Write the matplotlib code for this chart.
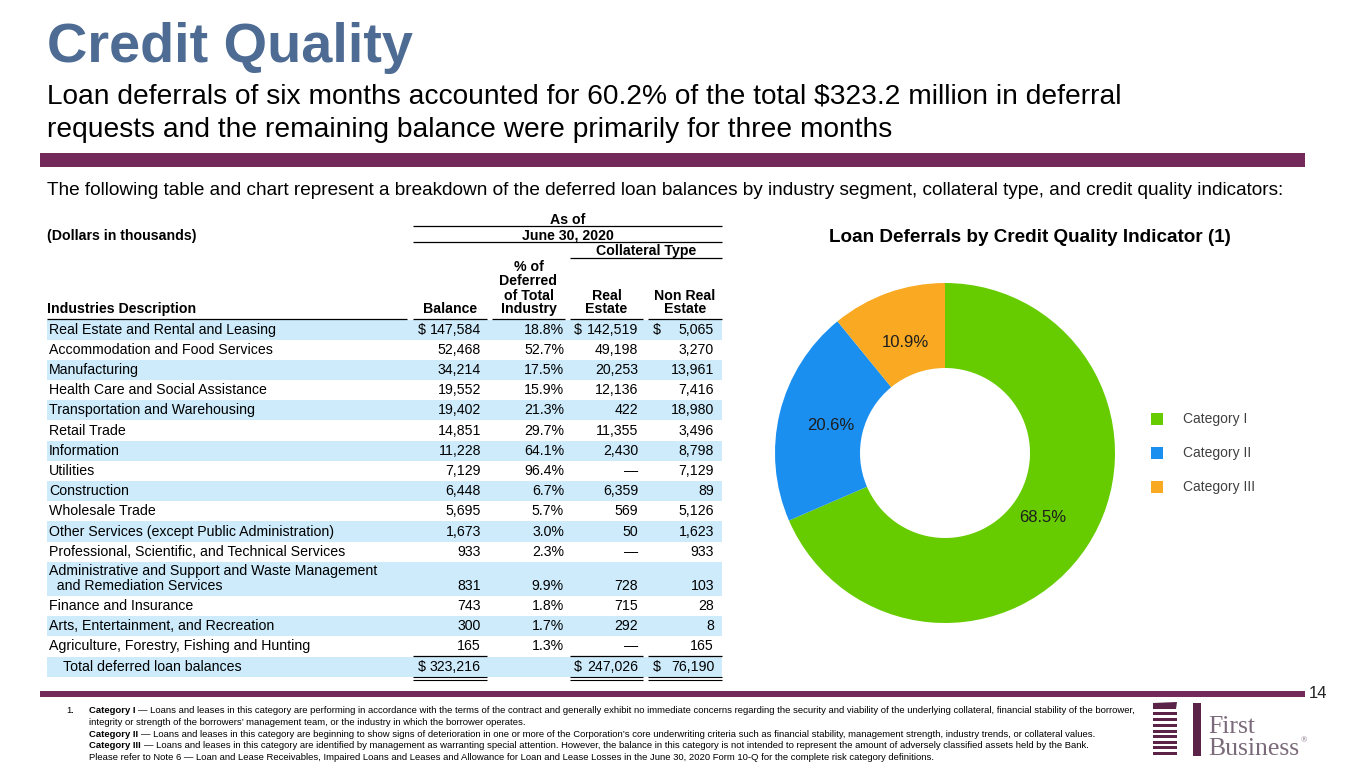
import matplotlib
matplotlib.use("Agg")
import matplotlib.pyplot as plt
from matplotlib.patches import Rectangle, Polygon
from matplotlib import font_manager

# ---- data -------------------------------------------------------------
industries = [
    "Real Estate and Rental and Leasing",
    "Accommodation and Food Services",
    "Manufacturing",
    "Health Care and Social Assistance",
    "Transportation and Warehousing",
    "Retail Trade",
    "Information",
    "Utilities",
    "Construction",
    "Wholesale Trade",
    "Other Services (except Public Administration)",
    "Professional, Scientific, and Technical Services",
    "Administrative and Support and Waste Management\n  and Remediation Services",
    "Finance and Insurance",
    "Arts, Entertainment, and Recreation",
    "Agriculture, Forestry, Fishing and Hunting",
]
balance = [147584, 52468, 34214, 19552, 19402, 14851, 11228, 7129, 6448, 5695,
           1673, 933, 831, 743, 300, 165]
pct_of_industry = [18.8, 52.7, 17.5, 15.9, 21.3, 29.7, 64.1, 96.4, 6.7, 5.7,
                   3.0, 2.3, 9.9, 1.8, 1.7, 1.3]
real_estate = [142519, 49198, 20253, 12136, 422, 11355, 2430, None, 6359, 569,
               50, None, 728, 715, 292, None]
non_real_estate = [5065, 3270, 13961, 7416, 18980, 3496, 8798, 7129, 89, 5126,
                   1623, 933, 103, 28, 8, 165]
total_balance = 323216
total_real = 247026
total_non_real = 76190

categories = ["Category I", "Category II", "Category III"]
shares = [68.5, 20.6, 10.9]
cat_colors = ["#66CC00", "#1B8FF0", "#F9AA22"]

footnotes = [
    ("Category I", "\u2014 Loans and leases in this category are performing in accordance with the terms of the contract and generally exhibit no immediate concerns regarding the security and viability of the underlying collateral, financial stability of the borrower,"),
    ("", "integrity or strength of the borrowers\u2019 management team, or the industry in which the borrower operates."),
    ("Category II", "\u2014 Loans and leases in this category are beginning to show signs of deterioration in one or more of the Corporation\u2019s core underwriting criteria such as financial stability, management strength, industry trends, or collateral values."),
    ("Category III", "\u2014 Loans and leases in this category are identified by management as warranting special attention. However, the balance in this category is not intended to represent the amount of adversely classified assets held by the Bank."),
    ("", "Please refer to Note 6 \u2014 Loan and Lease Receivables, Impaired Loans and Leases and Allowance for Loan and Lease Losses in the June 30, 2020 Form 10-Q for the complete risk category definitions."),
]

# ---- fonts ---------------------------------------------------------------
names = {f.name for f in font_manager.fontManager.ttflist}
SANS = "Liberation Sans"
NARROW = "Liberation Sans Narrow" if "Liberation Sans Narrow" in names else SANS
SERIF = "Liberation Serif"
plt.rcParams["font.family"] = [SANS, "DejaVu Sans"]

TITLE_BLUE = "#4E6B93"
PURPLE = "#74295B"
BAND = "#CDEBFB"

fig = plt.figure(figsize=(13.65, 7.68), dpi=100)
ax = fig.add_axes([0, 0, 1, 1])
ax.set_xlim(0, 1365)
ax.set_ylim(768, 0)
ax.axis("off")
renderer = fig.canvas.get_renderer()


def fit(x, y, s, width, **kw):
    t = ax.text(x, y, s, fontsize=10, **kw)
    w = t.get_window_extent(renderer).width
    t.set_fontsize(10 * width / w)
    return t


def hline(x0, x1, y, lw=0.9):
    ax.plot([x0, x1], [y, y], color="black", lw=lw, solid_capstyle="butt")


# ---- heading ------------------------------------------------------------
fit(47, 62, "Credit Quality", 368, color=TITLE_BLUE, fontweight="bold", va="baseline")
fit(47, 104, "Loan deferrals of six months accounted for 60.2% of the total $323.2 million in deferral",
    1081, color="black", va="baseline")
ax.text(47, 137, "requests and the remaining balance were primarily for three months",
        fontsize=ax.texts[-1].get_fontsize(), color="black", va="baseline")
ax.add_patch(Rectangle((40, 153), 1265, 14, color=PURPLE, lw=0))
fit(47, 195, "The following table and chart represent a breakdown of the deferred loan balances by "
    "industry segment, collateral type, and credit quality indicators:", 1250,
    family=[NARROW, SANS], va="baseline", color="black")

# ---- table ---------------------------------------------------------------
FS = 10.2
hdr = dict(fontsize=FS, fontweight="bold", ha="center", va="center")
cols = {"bal": (413, 487), "pct": (492, 565), "real": (570, 643), "non": (648, 722)}
ax.text(567.5, 220, "As of", **hdr)
hline(413, 722, 226)
ax.text(47, 236, "(Dollars in thousands)", fontsize=FS, fontweight="bold", va="center")
ax.text(567.5, 235, "June 30, 2020", **hdr)
hline(413, 722, 242)
ax.text(646, 251, "Collateral Type", **hdr)
hline(570, 722, 258)
ax.text(47, 309, "Industries Description", fontsize=FS, fontweight="bold", va="center")
ax.text(450, 309, "Balance", **hdr)
for yy, s in zip([267, 281, 296, 309], ["% of", "Deferred", "of Total", "Industry"]):
    ax.text(528.5, yy, s, **hdr)
ax.text(606.5, 296, "Real", **hdr)
ax.text(606.5, 309, "Estate", **hdr)
ax.text(685, 296, "Non Real", **hdr)
ax.text(685, 309, "Estate", **hdr)
for x0, x1 in [(47, 407)] + list(cols.values()):
    hline(x0, x1, 319)

right = {"bal": 481, "pct": 564, "real": 638, "non": 714}
dollar = {"bal": 418, "real": 574, "non": 653}
cell = dict(fontsize=FS, va="center", ha="right")


def money(v):
    return "\u2014" if v is None else f"{v:,}"


top = 319.5
for i, name in enumerate(industries):
    h = 34 if "\n" in name else 20.2
    if i % 2 == 0:
        ax.add_patch(Rectangle((47, top), 675, h, color=BAND, lw=0, zorder=0))
    yc = top + h / 2
    if "\n" in name:
        l1, l2 = name.split("\n")
        ax.text(49, top + 9.5, l1, fontsize=FS, va="center")
        ax.text(49, top + 24, l2, fontsize=FS, va="center")
        yn = top + 24
    else:
        ax.text(49, yc, name, fontsize=FS, va="center")
        yn = yc
    ax.text(right["bal"], yn, money(balance[i]), **cell)
    ax.text(right["pct"], yn, f"{pct_of_industry[i]:.1f}%", **cell)
    ax.text(right["real"], yn, money(real_estate[i]), **cell)
    ax.text(right["non"], yn, money(non_real_estate[i]), **cell)
    if i == 0:
        for k in dollar:
            ax.text(dollar[k], yn, "$", fontsize=FS, va="center")
    top += h

# totals
for k in ("bal", "real", "non"):
    hline(cols[k][0], cols[k][1], top - 1)
ax.add_patch(Rectangle((47, top), 675, 20.2, color=BAND, lw=0, zorder=0))
yc = top + 10.1
ax.text(63, yc, "Total deferred loan balances", fontsize=FS, va="center")
for k, v in (("bal", total_balance), ("real", total_real), ("non", total_non_real)):
    ax.text(right[k], yc, f"{v:,}", **cell)
    ax.text(dollar[k], yc, "$", fontsize=FS, va="center")
    hline(cols[k][0], cols[k][1], top + 20.5, lw=0.8)
    hline(cols[k][0], cols[k][1], top + 23, lw=0.8)

# ---- donut ---------------------------------------------------------------
fit(1030, 237, "Loan Deferrals by Credit Quality Indicator (1)", 401,
    fontweight="bold", ha="center", va="center")
dax = fig.add_axes([775 / 1365, 1 - 623 / 768, 340 / 1365, 340 / 768])
wedges, _, autotexts = dax.pie(shares, colors=cat_colors, startangle=90, counterclock=False,
                               autopct="%.1f%%", pctdistance=0.69,
                               wedgeprops=dict(width=0.5, linewidth=0),
                               textprops=dict(fontsize=12, color="#1E1E1E"))
dax.set_xlim(-1, 1)
dax.set_ylim(-1, 1)
dax.axis("off")

for j, lab in enumerate(categories):
    yy = 419 + 34 * j
    ax.add_patch(Rectangle((1151, yy - 6), 12, 12, color=cat_colors[j], lw=0))
    ax.text(1183, yy, lab, fontsize=10, color="#404040", va="center")

# ---- footer ---------------------------------------------------------------
ax.add_patch(Rectangle((40, 691), 1265, 6, color=PURPLE, lw=0))
ax.text(1318.5, 693, "14", fontsize=12, ha="center", va="center", color="#222222")

FN = 6.8
ax.text(66, 713, "1.", fontsize=FN, family=[NARROW, SANS], va="baseline")
for j, (b, rest) in enumerate(footnotes):
    yy = 713 + 11.8 * j
    x = 89
    if b:
        t = ax.text(x, yy, b, fontsize=FN, fontweight="bold", family=[NARROW, SANS], va="baseline")
        x += t.get_window_extent(renderer).width + 3
    ax.text(x, yy, rest, fontsize=FN, family=[NARROW, SANS], va="baseline")

# logo
ax.add_patch(Polygon([(1153, 703), (1177, 702), (1176, 709), (1153, 709)], color="#5A2347", lw=0))
for yy in [713, 719, 725, 731, 736, 742, 747, 753]:
    ax.add_patch(Rectangle((1153, yy - 1.5), 24, 3, color="#5A2347", lw=0))
ax.add_patch(Rectangle((1193, 703), 8, 53, color="#5A2347", lw=0))
ax.text(1208, 733, "First", family=SERIF, fontsize=18.5, color="#7B6B7A", va="baseline")
ax.text(1208, 755, "Business", family=SERIF, fontsize=18.5, color="#7B6B7A", va="baseline")
ax.text(1301, 742, "\u00ae", family=SERIF, fontsize=6, color="#7B6B7A", va="baseline")

fig.savefig("out.png", dpi=100)
